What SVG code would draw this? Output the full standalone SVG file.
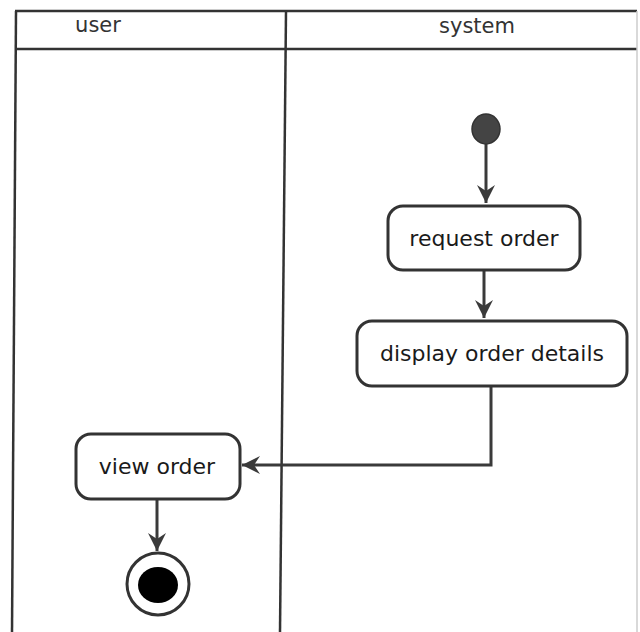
<svg xmlns="http://www.w3.org/2000/svg" width="640" height="632" viewBox="0 0 640 632">
<defs>
<style>
.lane{stroke:#333;stroke-width:2.5;fill:none}
.box{fill:#fff;stroke:#333;stroke-width:3}
.lbl{font-family:"DejaVu Sans",Verdana,sans-serif;font-size:22px;fill:#1a1a1a;text-anchor:middle}
.hdr{font-family:"DejaVu Sans",Verdana,sans-serif;font-size:21px;fill:#333;text-anchor:middle}
.edge{stroke:#3a3a3a;stroke-width:3;fill:none}
</style>
<marker id="arr" viewBox="0 0 20 20" refX="18" refY="10" markerWidth="20" markerHeight="20" markerUnits="userSpaceOnUse" orient="auto">
<path d="M0,1 L18,10 L0,19 L6,10 Z" fill="#3a3a3a"/>
</marker>
</defs>
<rect width="640" height="632" fill="#fff"/>
<g id="lanes">
<path class="lane" d="M15,11 L637,11"/>
<path class="lane" d="M15,49 L637,49"/>
<path class="lane" d="M16,11 L12,632"/>
<path class="lane" d="M286,11 L280,632"/>
<path d="M637,11 L637,632" stroke="#ccc" stroke-width="1.5"/>
<text class="hdr" x="98" y="32">user</text>
<text class="hdr" x="477" y="33">system</text>
</g>
<g id="connectors">
<path class="edge" d="M486,144 L486,203" marker-end="url(#arr)"/>
<path class="edge" d="M484,271 L484,318" marker-end="url(#arr)"/>
<path class="edge" d="M491,387 L491,465 L242,465" marker-end="url(#arr)"/>
<path class="edge" d="M157,500 L157,551" marker-end="url(#arr)"/>
</g>
<g id="start">
<ellipse cx="486" cy="129" rx="14" ry="15" fill="#444" stroke="#333" stroke-width="1.5"/>
</g>
<g id="request-order">
<rect class="box" x="388" y="206" width="192" height="64" rx="15"/>
<text class="lbl" x="484" y="246">request order</text>
</g>
<g id="display-order-details">
<rect class="box" x="357" y="321" width="270" height="65" rx="15"/>
<text class="lbl" x="492" y="361">display order details</text>
</g>
<g id="view-order">
<rect class="box" x="76" y="434" width="164" height="65" rx="15"/>
<text class="lbl" x="157" y="474">view order</text>
</g>
<g id="end">
<circle cx="158" cy="584" r="31" fill="#fff" stroke="#333" stroke-width="3"/>
<ellipse cx="158" cy="585" rx="20" ry="18" fill="#000"/>
</g>
</svg>
